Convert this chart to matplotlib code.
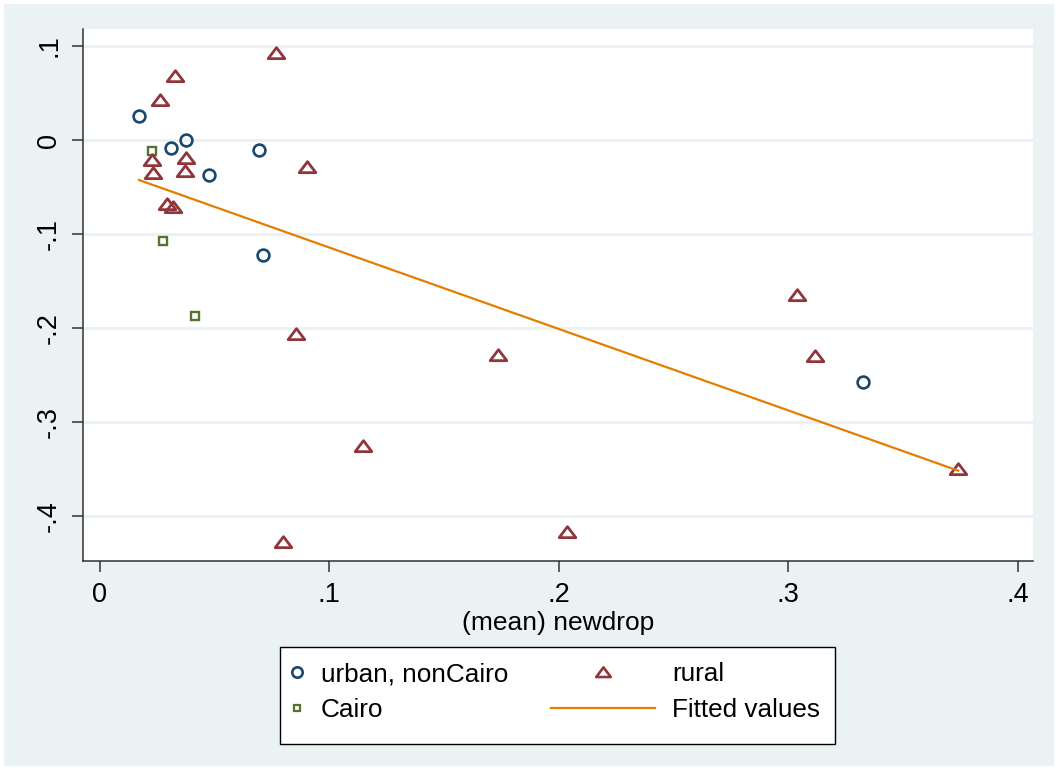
import matplotlib
matplotlib.use("Agg")
import matplotlib.pyplot as plt
from matplotlib.path import Path
from matplotlib.patches import Rectangle
from matplotlib.lines import Line2D

plt.rcParams['font.family'] = ['Liberation Sans', 'DejaVu Sans']

# data
urban_x = [0.0172, 0.0310, 0.0375, 0.0476, 0.0693, 0.0712, 0.3327]
urban_y = [0.0255, -0.0082, 0.0000, -0.0372, -0.0106, -0.1222, -0.2575]

cairo_x = [0.0230, 0.0275, 0.0416]
cairo_y = [-0.0114, -0.1070, -0.1867]

rural_x = [0.0767, 0.0327, 0.0262, 0.0227, 0.0233, 0.0375, 0.0372, 0.0905,
           0.0293, 0.0321, 0.0854, 0.1149, 0.0798, 0.1736, 0.2036, 0.3037,
           0.3118, 0.3740]
rural_y = [0.0920, 0.0683, 0.0425, -0.0213, -0.0347, -0.0195, -0.0326, -0.0290,
           -0.0680, -0.0716, -0.2065, -0.3250, -0.4275, -0.2285, -0.4166, -0.1644,
           -0.2295, -0.3500]

fit_x = [0.0172, 0.3740]
fit_y = [-0.0425, -0.3514]

xticks = [0, 0.1, 0.2, 0.3, 0.4]
xticklabels = ['0', '.1', '.2', '.3', '.4']
yticks = [-0.4, -0.3, -0.2, -0.1, 0, 0.1]
yticklabels = ['-.4', '-.3', '-.2', '-.1', '0', '.1']

navy = '#1a476f'
maroon = '#90353b'
green = '#55752f'
orange = '#e37e00'
bg = '#eaf2f3'

tri = Path([(-1, -0.62), (1, -0.62), (0, 0.7), (-1, -0.62)],
           [Path.MOVETO, Path.LINETO, Path.LINETO, Path.CLOSEPOLY])

W, H = 1058, 770
fig = plt.figure(figsize=(W / 100, H / 100), dpi=100, facecolor='white')
fig.patches.append(Rectangle((4 / W, 4 / H), 1 - 8 / W, 1 - 8 / H,
                             transform=fig.transFigure, facecolor=bg,
                             edgecolor='none', zorder=-10))

ax = fig.add_axes([83 / W, 209 / H, 950 / W, 532 / H])
ax.set_facecolor('white')

for y in yticks:
    ax.axhline(y, color=bg, lw=2.2, zorder=1)

ax.plot(urban_x, urban_y, ls='none', marker='o', ms=8.5, mfc='none',
        mec=navy, mew=1.9, zorder=3)
ax.plot(cairo_x, cairo_y, ls='none', marker='s', ms=5.2, mfc='none',
        mec=green, mew=1.7, zorder=3)
ax.plot(rural_x, rural_y, ls='none', marker=tri, ms=12, mfc='none',
        mec=maroon, mew=2.0, zorder=3)
ax.plot(fit_x, fit_y, color=orange, lw=1.6, zorder=4)

ax.set_xlim(-0.0072, 0.4066)
ax.set_ylim(-0.4474, 0.118)

for s in ['top', 'right']:
    ax.spines[s].set_visible(False)
for s in ['left', 'bottom']:
    ax.spines[s].set_color('#333333')
    ax.spines[s].set_linewidth(1.1)

ax.set_xticks(xticks)
ax.set_xticklabels(xticklabels, fontsize=19.5)
ax.set_yticks(yticks)
ax.set_yticklabels(yticklabels, fontsize=19.5, rotation=90, va='center')
ax.tick_params(axis='both', length=8, width=1.1, color='#333333', pad=7)
ax.set_xlabel('(mean) newdrop', fontsize=19, labelpad=2)

# legend box
fig.patches.append(Rectangle((280 / W, 26 / H), 555 / W, 97 / H,
                             transform=fig.transFigure, facecolor='white',
                             edgecolor='black', lw=1.0, zorder=1))

h_urban = Line2D([], [], ls='none', marker='o', ms=7.5, mfc='none', mec=navy, mew=1.9)
h_cairo = Line2D([], [], ls='none', marker='s', ms=5.0, mfc='none', mec=green, mew=1.6)
h_rural = Line2D([], [], ls='none', marker=tri, ms=10.5, mfc='none', mec=maroon, mew=1.9)
h_fit = Line2D([], [], color=orange, lw=1.6)

leg1 = fig.legend([h_urban, h_cairo], ['urban, nonCairo', 'Cairo'],
                  loc='center left', bbox_to_anchor=(284 / W, 1 - 692 / H),
                  frameon=False, fontsize=18.8, handlelength=1.0,
                  handletextpad=0.4, labelspacing=0.45, borderpad=0,
                  borderaxespad=0)
leg2 = fig.legend([h_rural, h_fit], ['rural', 'Fitted values'],
                  loc='center left', bbox_to_anchor=(551 / W, 1 - 692 / H),
                  frameon=False, fontsize=18.8, handlelength=4.0,
                  handletextpad=0.64, labelspacing=0.45, borderpad=0,
                  borderaxespad=0)
leg1.set_zorder(5)
leg2.set_zorder(5)

fig.savefig('out.png', dpi=100, facecolor='white')
